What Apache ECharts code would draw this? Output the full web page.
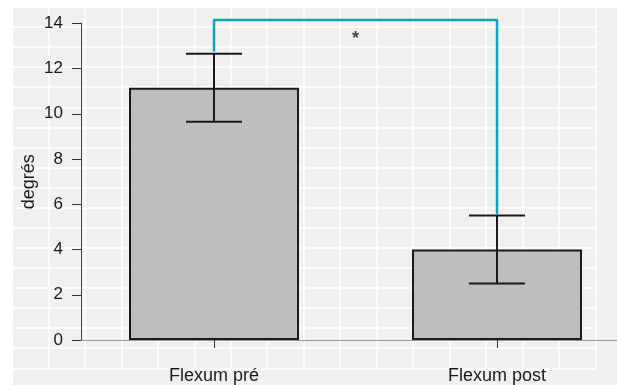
<!DOCTYPE html>
<html>
<head>
<meta charset="utf-8">
<script src="https://cdn.jsdelivr.net/npm/echarts@6/dist/echarts.min.js"></script>
<style>html,body{margin:0;padding:0;background:#fff}#c{width:617px;height:385px}</style>
</head>
<body>
<div id="c"></div>
<script>
// ---- data ----
const categories = ['Flexum pré', 'Flexum post'];
const catPos = [1, 2];
const means = [11.15, 4.0];
const errLow = [9.65, 2.5];
const errHigh = [12.65, 5.5];
const yMin = 0, yMax = 14, yStep = 2;
const yTitle = 'degrés';
const sigLabel = '*';
const sigTop = 14.15;
const sigLeftFoot = 12.8;
const sigRightFoot = 5.6;

const FONT = "'Liberation Sans', Arial, Helvetica, sans-serif";
const chart = echarts.init(document.getElementById('c'), null, {renderer: 'canvas'});

const barData = catPos.map((x, i) => [x, means[i]]);
const errData = catPos.map((x, i) => [x, errLow[i], errHigh[i]]);
const bracketData = [[catPos[0], sigLeftFoot], [catPos[0], sigTop], [catPos[1], sigTop], [catPos[1], sigRightFoot]];
const starData = [[(catPos[0] + catPos[1]) / 2, 13.3]];

const hidden = {show: true, axisLine: {show: false}, axisTick: {show: false}, axisLabel: {show: false}};

chart.setOption({
  animation: false,
  textStyle: {fontFamily: FONT},
  grid: [
    {left: 13, top: 8, right: 0, bottom: 0, show: true, backgroundColor: '#f0f0f0', borderWidth: 0, z: -10},
    {left: 12.05, top: 6.92, width: 583.2, height: 361.4, show: false},
    {left: 81, top: 23.3, right: 0, bottom: 45, show: false}
  ],
  xAxis: [
    {gridIndex: 0, type: 'value', show: false},
    Object.assign({gridIndex: 1, type: 'value', min: 0, max: 16, interval: 1,
      splitLine: {show: true, lineStyle: {color: '#ffffff', width: 1.5}}}, hidden),
    {gridIndex: 2, type: 'value', min: 0.530, max: 2.424,
      axisLine: {show: true, onZero: false, lineStyle: {color: '#9a9a9a', width: 1}},
      axisTick: {show: false}, axisLabel: {show: false}, splitLine: {show: false}},
    {gridIndex: 2, type: 'value', min: 0.530, max: 2.424, offset: 16, position: 'bottom',
      axisLine: {show: false},
      axisTick: {show: true, length: 8, customValues: catPos, lineStyle: {color: '#333', width: 1}},
      axisLabel: {show: true, customValues: catPos, margin: 11, fontSize: 18, color: '#1a1a1a', fontFamily: FONT,
        formatter: v => categories[catPos.indexOf(v)] || ''},
      splitLine: {show: false}}
  ],
  yAxis: [
    {gridIndex: 0, type: 'value', show: false},
    Object.assign({gridIndex: 1, type: 'value', min: 0, max: 18, interval: 1,
      splitLine: {show: true, lineStyle: {color: '#ffffff', width: 1.5}}}, hidden),
    {gridIndex: 2, type: 'value', min: yMin, max: yMax, interval: yStep,
      name: yTitle, nameLocation: 'middle', nameGap: 43, nameMoveOverlap: false,
      nameTextStyle: {fontSize: 18, color: '#1a1a1a', fontFamily: FONT},
      axisLine: {show: true, lineStyle: {color: '#444', width: 1}},
      axisTick: {show: true, length: 9, lineStyle: {color: '#333', width: 1}},
      axisLabel: {margin: 18, fontSize: 17, color: '#1a1a1a', fontFamily: FONT},
      splitLine: {show: false}}
  ],
  series: [
    {type: 'bar', xAxisIndex: 2, yAxisIndex: 2, data: barData, barWidth: 170,
      itemStyle: {color: '#bebebe', borderColor: '#1a1a1a', borderWidth: 2}, z: 3},
    {type: 'custom', xAxisIndex: 2, yAxisIndex: 2, data: errData, z: 4,
      encode: {x: 0, y: [1, 2]},
      renderItem: function (params, api) {
        const x = api.value(0);
        const lo = api.coord([x, api.value(1)]);
        const hi = api.coord([x, api.value(2)]);
        const hw = 28;
        const st = {stroke: '#1a1a1a', lineWidth: 2};
        return {type: 'group', children: [
          {type: 'line', shape: {x1: lo[0], y1: lo[1], x2: hi[0], y2: hi[1]}, style: st},
          {type: 'line', shape: {x1: lo[0] - hw, y1: lo[1], x2: lo[0] + hw, y2: lo[1]}, style: st},
          {type: 'line', shape: {x1: hi[0] - hw, y1: hi[1], x2: hi[0] + hw, y2: hi[1]}, style: st}
        ]};
      }},
    {type: 'line', xAxisIndex: 2, yAxisIndex: 2, data: bracketData, clip: false, symbol: 'none', z: 5,
      lineStyle: {color: '#14a0b8', width: 2.5, join: 'round', cap: 'round'}},
    {type: 'scatter', xAxisIndex: 2, yAxisIndex: 2, data: starData, symbolSize: 0, clip: false, z: 6,
      label: {show: true, position: 'inside', formatter: sigLabel, fontSize: 18, fontWeight: 'bold', color: '#1a1a1a', fontFamily: FONT}}
  ]
});
</script>
</body>
</html>
